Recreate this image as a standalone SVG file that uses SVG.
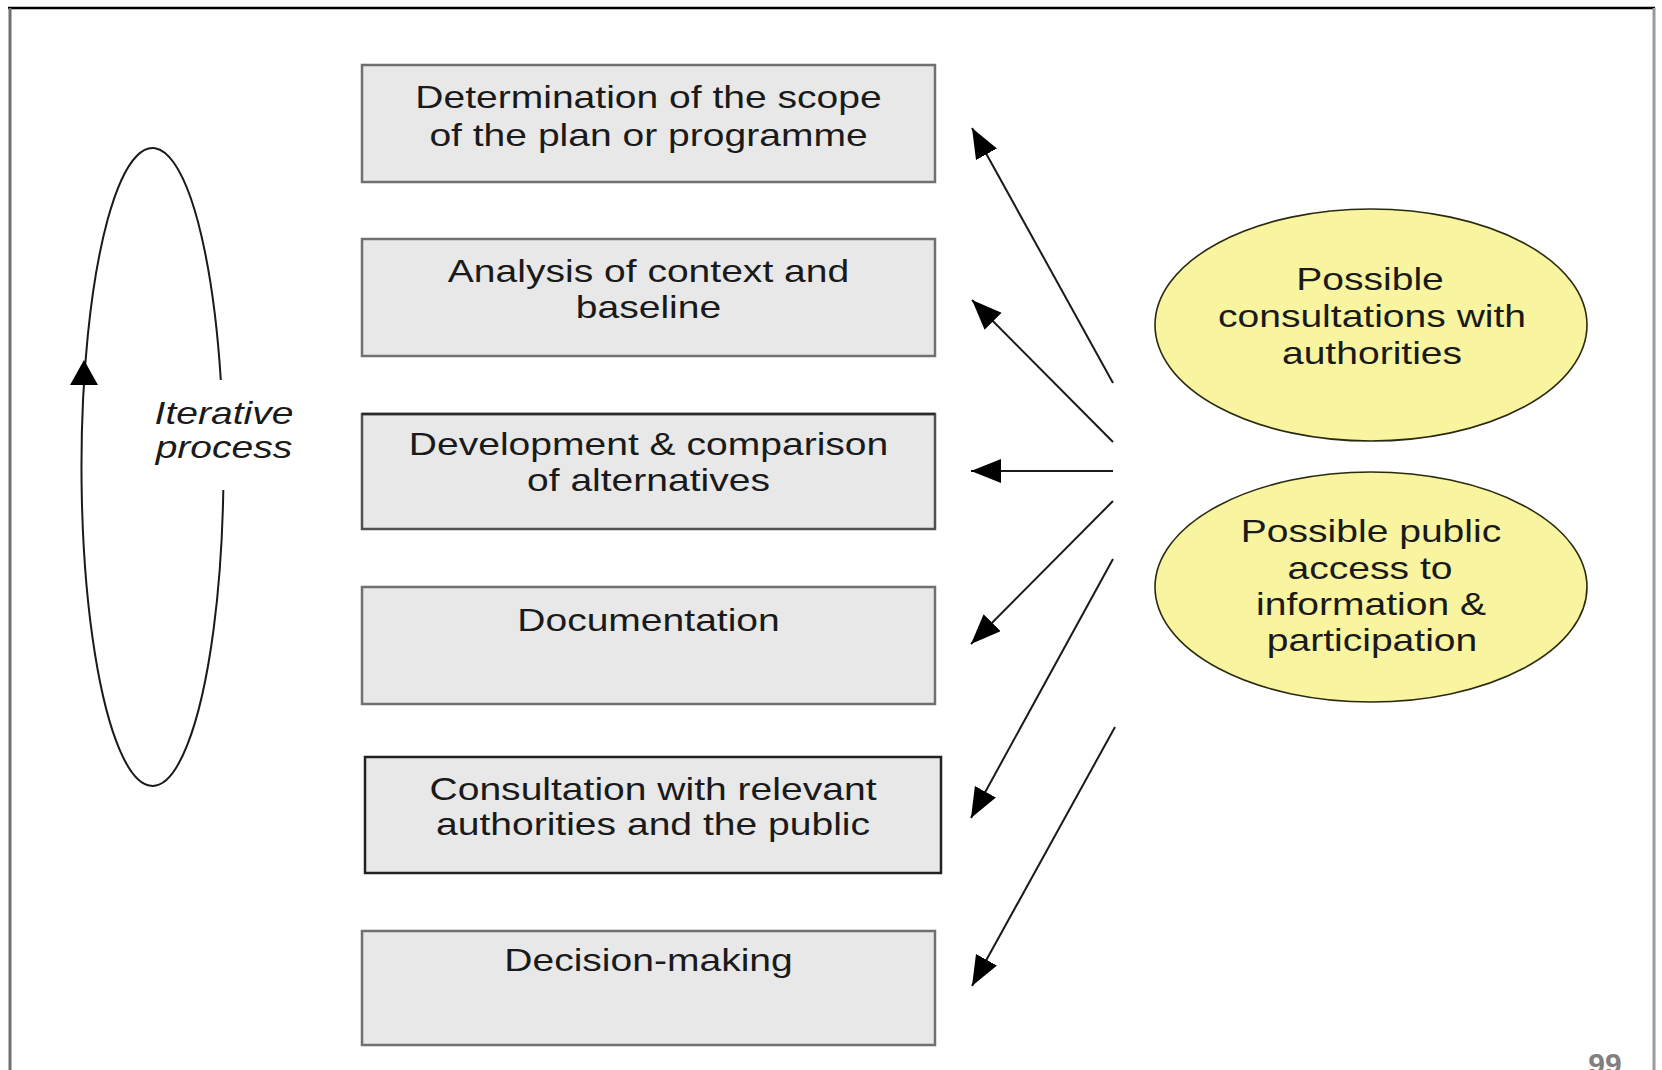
<svg xmlns="http://www.w3.org/2000/svg" width="1662" height="1070" viewBox="0 0 1662 1070">
<style>
  .box { fill: #e8e8e8; stroke: #707070; stroke-width: 2.5; }
  .t { font-family: "Liberation Sans", Arial, sans-serif; font-size: 32px; fill: #1a1a1a; text-anchor: middle; }
  .it { font-style: italic; }
  .oval { fill: #f8f4a0; stroke: #2a2a10; stroke-width: 1.6; }
  .conn { stroke: #1a1a1a; stroke-width: 2; fill: none; }
</style>
<defs>
  <marker id="ah" markerUnits="userSpaceOnUse" markerWidth="32" markerHeight="26" refX="30" refY="12" orient="auto">
    <path d="M0,0 L30,12 L0,24 Z" fill="#000"/>
  </marker>
</defs>
<rect x="0" y="0" width="1662" height="1070" fill="#ffffff"/>
<g id="frame">
  <line x1="8" y1="8" x2="1655" y2="8" stroke="#000" stroke-width="2.5"/>
  <line x1="10" y1="8" x2="10" y2="1070" stroke="#707070" stroke-width="3"/>
  <line x1="1654" y1="8" x2="1654" y2="1070" stroke="#9a9a9a" stroke-width="3"/>
</g>
<g id="loop">
  <path d="M 223.3 490 A 71 319 0 1 1 220.8 380" class="conn" stroke-width="1.8"/>
  <polygon points="84,360 70,385 98,385" fill="#000"/>
  <text class="t it" transform="matrix(1.22 0 0 1 224 0)" x="0" y="424">Iterative</text>
  <text class="t it" transform="matrix(1.22 0 0 1 224 0)" x="0" y="458">process</text>
</g>
<g id="n1">
  <rect class="box" x="362" y="65" width="573" height="117"/>
  <text class="t" transform="matrix(1.22 0 0 1 648.5 0)" x="0" y="108">Determination of the scope</text>
  <text class="t" transform="matrix(1.22 0 0 1 648.5 0)" x="0" y="146.5">of the plan or programme</text>
</g>
<g id="n2">
  <rect class="box" x="362" y="239" width="573" height="117"/>
  <text class="t" transform="matrix(1.22 0 0 1 648.5 0)" x="0" y="282">Analysis of context and</text>
  <text class="t" transform="matrix(1.22 0 0 1 648.5 0)" x="0" y="318">baseline</text>
</g>
<g id="n3">
  <rect class="box" x="362" y="414" width="573" height="115" style="stroke:#505050"/>
  <line x1="362" y1="414" x2="935" y2="414" stroke="#2a2a2a" stroke-width="2.5"/>
  <text class="t" transform="matrix(1.22 0 0 1 648.5 0)" x="0" y="455">Development &amp; comparison</text>
  <text class="t" transform="matrix(1.22 0 0 1 648.5 0)" x="0" y="491">of alternatives</text>
</g>
<g id="n4">
  <rect class="box" x="362" y="587" width="573" height="117"/>
  <text class="t" transform="matrix(1.22 0 0 1 648.5 0)" x="0" y="631">Documentation</text>
</g>
<g id="n5">
  <rect class="box" x="365" y="757" width="576" height="116" style="stroke:#222"/>
  <text class="t" transform="matrix(1.22 0 0 1 653 0)" x="0" y="800">Consultation with relevant</text>
  <text class="t" transform="matrix(1.22 0 0 1 653 0)" x="0" y="835">authorities and the public</text>
</g>
<g id="n6">
  <rect class="box" x="362" y="931" width="573" height="114"/>
  <text class="t" transform="matrix(1.22 0 0 1 648.5 0)" x="0" y="971">Decision-making</text>
</g>
<g id="e1">
  <ellipse class="oval" cx="1371" cy="325" rx="216" ry="116"/>
  <text class="t" transform="matrix(1.22 0 0 1 1370 0)" x="0" y="290">Possible</text>
  <text class="t" transform="matrix(1.22 0 0 1 1372 0)" x="0" y="327">consultations with</text>
  <text class="t" transform="matrix(1.22 0 0 1 1372 0)" x="0" y="364">authorities</text>
</g>
<g id="e2">
  <ellipse class="oval" cx="1371" cy="587" rx="216" ry="115"/>
  <text class="t" transform="matrix(1.22 0 0 1 1371 0)" x="0" y="542">Possible public</text>
  <text class="t" transform="matrix(1.22 0 0 1 1370 0)" x="0" y="579">access to</text>
  <text class="t" transform="matrix(1.22 0 0 1 1371 0)" x="0" y="615">information &amp;</text>
  <text class="t" transform="matrix(1.22 0 0 1 1372 0)" x="0" y="651">participation</text>
</g>
<g id="connectors">
  <line class="conn" x1="1113" y1="383" x2="972" y2="128" marker-end="url(#ah)"/>
  <line class="conn" x1="1113" y1="442" x2="972" y2="300" marker-end="url(#ah)"/>
  <line class="conn" x1="1113" y1="471" x2="971" y2="471" marker-end="url(#ah)"/>
  <line class="conn" x1="1113" y1="501" x2="971" y2="644" marker-end="url(#ah)"/>
  <line class="conn" x1="1113" y1="559" x2="971" y2="818" marker-end="url(#ah)"/>
  <line class="conn" x1="1115" y1="727" x2="972" y2="986" marker-end="url(#ah)"/>
</g>
<text x="1605" y="1074" font-family="Liberation Sans, Arial, sans-serif" font-size="30" font-weight="bold" fill="#808080" text-anchor="middle">99</text>
</svg>
